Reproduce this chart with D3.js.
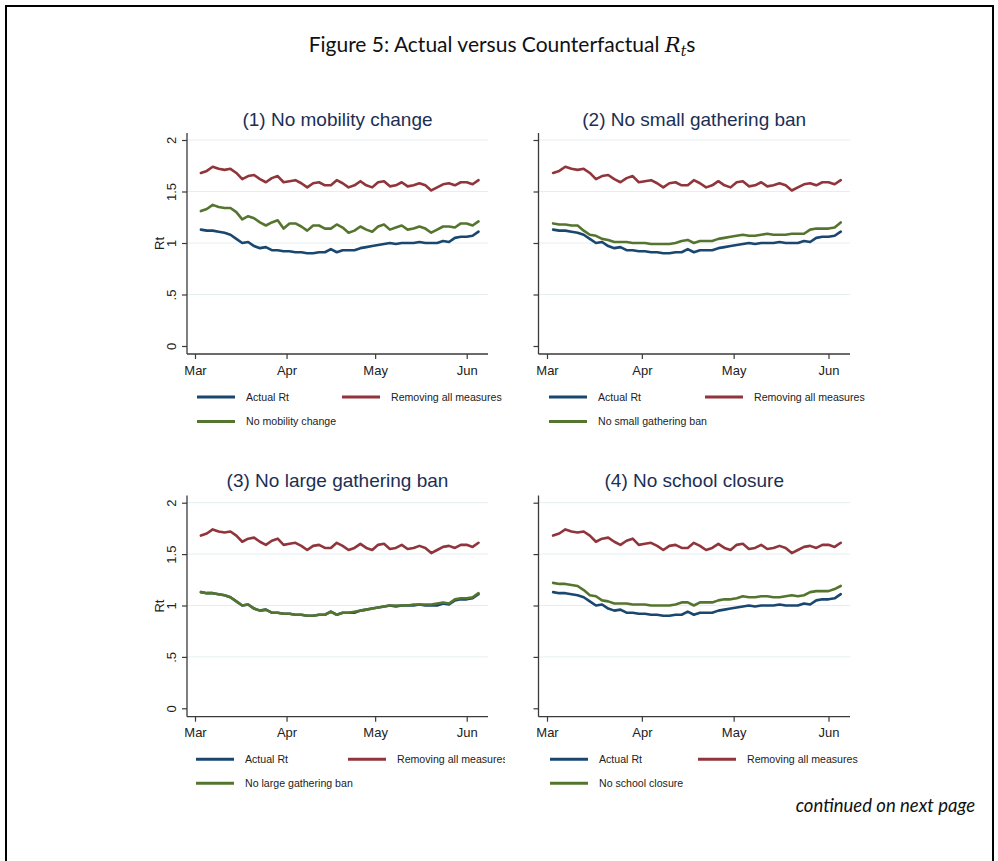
<!DOCTYPE html>
<html><head><meta charset="utf-8">
<script src="https://cdn.jsdelivr.net/npm/d3@7"></script>
<style>body{margin:0;background:#fff}</style>
</head><body><svg id="c" width="998" height="861"></svg>
<script>
// ---------------- DATA ----------------
const dates = ["2020-03-03","2020-03-05","2020-03-07","2020-03-09","2020-03-11","2020-03-13","2020-03-15","2020-03-17","2020-03-19","2020-03-21","2020-03-23","2020-03-25","2020-03-27","2020-03-29","2020-03-31",
"2020-04-02","2020-04-04","2020-04-06","2020-04-08","2020-04-10","2020-04-12","2020-04-14","2020-04-16","2020-04-18","2020-04-20","2020-04-22","2020-04-24","2020-04-26","2020-04-28","2020-04-30",
"2020-05-02","2020-05-04","2020-05-06","2020-05-08","2020-05-10","2020-05-12","2020-05-14","2020-05-16","2020-05-18","2020-05-20","2020-05-22","2020-05-24","2020-05-26","2020-05-28","2020-05-30",
"2020-06-01","2020-06-03","2020-06-05"];

const actualRt = [1.13,1.12,1.12,1.11,1.10,1.08,1.04,1.00,1.01,0.97,0.95,0.96,0.93,0.93,0.92,
0.92,0.91,0.91,0.90,0.90,0.91,0.91,0.94,0.91,0.93,0.93,0.93,0.95,0.96,0.97,
0.98,0.99,1.00,0.99,1.00,1.00,1.00,1.01,1.00,1.00,1.00,1.02,1.01,1.05,1.06,
1.06,1.07,1.11];

const removingAll = [1.68,1.70,1.74,1.72,1.71,1.72,1.68,1.62,1.65,1.66,1.62,1.59,1.63,1.65,1.59,
1.60,1.61,1.58,1.54,1.58,1.59,1.56,1.56,1.61,1.58,1.54,1.56,1.60,1.56,1.54,
1.59,1.60,1.55,1.56,1.59,1.55,1.56,1.58,1.56,1.51,1.54,1.57,1.58,1.56,1.59,
1.59,1.57,1.61];

const noMobility = [1.31,1.33,1.37,1.35,1.34,1.34,1.30,1.23,1.26,1.24,1.20,1.17,1.20,1.22,1.14,
1.19,1.19,1.16,1.12,1.17,1.17,1.14,1.14,1.18,1.15,1.10,1.12,1.16,1.13,1.11,
1.16,1.18,1.13,1.15,1.17,1.13,1.14,1.16,1.14,1.10,1.13,1.16,1.16,1.15,1.19,
1.19,1.17,1.21];

const noSmallGathering = [1.19,1.18,1.18,1.17,1.17,1.12,1.08,1.07,1.04,1.03,1.01,1.01,1.01,1.00,1.00,
1.00,0.99,0.99,0.99,0.99,1.00,1.02,1.03,1.00,1.02,1.02,1.02,1.04,1.05,1.06,
1.07,1.08,1.07,1.07,1.08,1.09,1.08,1.08,1.08,1.09,1.09,1.09,1.13,1.14,1.14,
1.14,1.15,1.20];

const noLargeGathering = [1.13,1.12,1.12,1.11,1.10,1.08,1.04,1.00,1.01,0.97,0.95,0.96,0.93,0.93,0.92,
0.92,0.91,0.91,0.90,0.90,0.91,0.91,0.94,0.91,0.93,0.93,0.94,0.95,0.96,0.97,
0.98,0.99,1.00,1.00,1.00,1.00,1.01,1.01,1.01,1.01,1.02,1.03,1.02,1.06,1.07,
1.07,1.08,1.12];

const noSchoolClosure = [1.22,1.21,1.21,1.20,1.19,1.15,1.10,1.09,1.05,1.04,1.02,1.02,1.02,1.01,1.01,
1.01,1.00,1.00,1.00,1.00,1.01,1.03,1.03,1.00,1.03,1.03,1.03,1.05,1.06,1.06,
1.07,1.09,1.08,1.08,1.09,1.09,1.08,1.08,1.09,1.10,1.09,1.10,1.13,1.14,1.14,
1.14,1.16,1.19];

const panelTitles = ["(1) No mobility change","(2) No small gathering ban","(3) No large gathering ban","(4) No school closure"];
const counterfactualLabels = ["No mobility change","No small gathering ban","No large gathering ban","No school closure"];
const counterfactualSeries = [noMobility, noSmallGathering, noLargeGathering, noSchoolClosure];
const seriesLabels = ["Actual Rt","Removing all measures"];
const yTicks = [0, 0.5, 1, 1.5, 2];
const yTickLabels = ["0", ".5", "1", "1.5", "2"];
const gridTicks = [0.5, 1, 1.5, 2];
const xTickDates = ["2020-03-01","2020-04-01","2020-05-01","2020-06-01"];
const xTickLabels = ["Mar","Apr","May","Jun"];
const yAxisTitle = "Rt";

// ---------------- STYLE / LAYOUT ----------------
const colors = {actual:"#1a476f", removing:"#90353b", counter:"#55752f", title:"#1c2f55", grid:"#e6eef0", axis:"#3a3a3a"};
const cols = [
  {axisX:187, x0:195, x1:466.7, right:488, showY:true, clipR:505},
  {axisX:538.5, x0:547, x1:828.5, right:850, showY:false, clipR:998}
];
const rows = [
  {top:133, y2:140, y0:346, bottom:354, titleY:126, xlabY:375, leg:[397,421.5]},
  {top:495.5, y2:502.7, y0:708.3, bottom:716.7, titleY:487, xlabY:737, leg:[759.3,783.3]}
];
const legendLayout = [
  {k0:197, off2:145},
  {k0:549, off2:156},
  {k0:196, off2:152},
  {k0:550, off2:148}
];

const svg = d3.select("#c");
const parse = d3.utcParse("%Y-%m-%d");
const dateObjs = dates.map(parse);

// frame
svg.append("rect").attr("x",6).attr("y",6).attr("width",987).attr("height",900)
  .attr("fill","none").attr("stroke","#000").attr("stroke-width",2);

// main title
const mt = svg.append("text").attr("x",502).attr("y",52).attr("text-anchor","middle")
  .attr("font-family","Lato, 'Open Sans', sans-serif").attr("font-size",21).attr("fill","#111");
mt.append("tspan").text("Figure 5: Actual versus Counterfactual ");
mt.append("tspan").attr("font-family","'DejaVu Serif', 'Liberation Serif', serif").attr("font-style","italic").text("R");
mt.append("tspan").attr("font-family","'DejaVu Serif', 'Liberation Serif', serif").attr("font-style","italic")
  .attr("font-size",14).attr("dy",4).text("t");
mt.append("tspan").attr("dy",-4).text("s");

svg.append("text").attr("x",975).attr("y",812).attr("text-anchor","end")
  .attr("font-family","Lato, 'Open Sans', sans-serif").attr("font-style","italic").attr("font-size",18.5)
  .attr("fill","#111").text("continued on next page");

const defs = svg.append("defs");
cols.forEach((c,i)=>{
  defs.append("clipPath").attr("id","clipc"+i).append("rect")
    .attr("x",0).attr("y",0).attr("width",c.clipR).attr("height",861);
});

const font = "'Liberation Sans', Arial, sans-serif";

panelTitles.forEach((title, p)=>{
  const c = cols[p%2], r = rows[Math.floor(p/2)];
  const g = svg.append("g");
  const x = d3.scaleUtc().domain([parse(xTickDates[0]), parse(xTickDates[3])]).range([c.x0, c.x1]);
  const y = d3.scaleLinear().domain([0,2]).range([r.y0, r.y2]);

  // grid
  g.selectAll(".grid").data(gridTicks).join("line")
    .attr("x1",c.axisX).attr("x2",c.right).attr("y1",d=>y(d)).attr("y2",d=>y(d))
    .attr("stroke",colors.grid).attr("stroke-width",1);

  // title
  g.append("text").attr("x",(c.axisX+c.right)/2).attr("y",r.titleY).attr("text-anchor","middle")
    .attr("font-family",font).attr("font-size",19).attr("fill",colors.title).text(title);

  // lines
  const line = vals => d3.line().x((d,i)=>x(dateObjs[i])).y(d=>y(d))(vals);
  const series = [[actualRt,colors.actual],[removingAll,colors.removing],[counterfactualSeries[p],colors.counter]];
  series.forEach(([vals,col])=>{
    g.append("path").attr("d",line(vals)).attr("fill","none").attr("stroke",col)
      .attr("stroke-width",2.6).attr("stroke-linejoin","round").attr("stroke-linecap","round");
  });

  // y axis
  const yAxis = d3.axisLeft(y).tickValues(yTicks).tickSize(5).tickFormat((d,i)=>c.showY?yTickLabels[i]:"");
  const ya = g.append("g").attr("transform",`translate(${c.axisX},0)`).call(yAxis);
  ya.select(".domain").remove();
  ya.selectAll(".tick line").attr("stroke",colors.axis).attr("stroke-width",1.2);
  ya.selectAll(".tick text").attr("font-family",font).attr("font-size",13).attr("fill","#222")
    .attr("text-anchor","middle").attr("dy",0).attr("x",0)
    .attr("transform",d=>`translate(-11,0) rotate(-90)`);
  g.append("line").attr("x1",c.axisX).attr("x2",c.axisX).attr("y1",r.top).attr("y2",r.bottom)
    .attr("stroke",colors.axis).attr("stroke-width",1.3);
  if (c.showY) {
    g.append("text").attr("transform",`translate(163.5,${(r.top+r.bottom)/2}) rotate(-90)`)
      .attr("text-anchor","middle").attr("font-family",font).attr("font-size",13).attr("fill","#222").text(yAxisTitle);
  }

  // x axis
  const xAxis = d3.axisBottom(x).tickValues(xTickDates.map(parse)).tickSize(5).tickFormat((d,i)=>xTickLabels[i]);
  const xa = g.append("g").attr("transform",`translate(0,${r.bottom})`).call(xAxis);
  xa.select(".domain").remove();
  xa.selectAll(".tick line").attr("stroke",colors.axis).attr("stroke-width",1.2);
  xa.selectAll(".tick text").attr("font-family",font).attr("font-size",13).attr("fill","#222")
    .attr("y",r.xlabY - r.bottom).attr("dy",0);
  g.append("line").attr("x1",c.axisX).attr("x2",c.right).attr("y1",r.bottom).attr("y2",r.bottom)
    .attr("stroke",colors.axis).attr("stroke-width",1.3);

  // legend
  const L = legendLayout[p];
  const lg = svg.append("g").attr("clip-path",`url(#clipc${p%2})`);
  const items = [
    {label:seriesLabels[0], col:colors.actual, kx:L.k0, ky:r.leg[0]},
    {label:seriesLabels[1], col:colors.removing, kx:L.k0+L.off2, ky:r.leg[0]},
    {label:counterfactualLabels[p], col:colors.counter, kx:L.k0, ky:r.leg[1]}
  ];
  items.forEach(it=>{
    lg.append("line").attr("x1",it.kx).attr("x2",it.kx+38).attr("y1",it.ky).attr("y2",it.ky)
      .attr("stroke",it.col).attr("stroke-width",3);
    lg.append("text").attr("x",it.kx+49).attr("y",it.ky+3.8).attr("font-family",font)
      .attr("font-size",10.6).attr("fill","#222").text(it.label);
  });
});
</script></body></html>
